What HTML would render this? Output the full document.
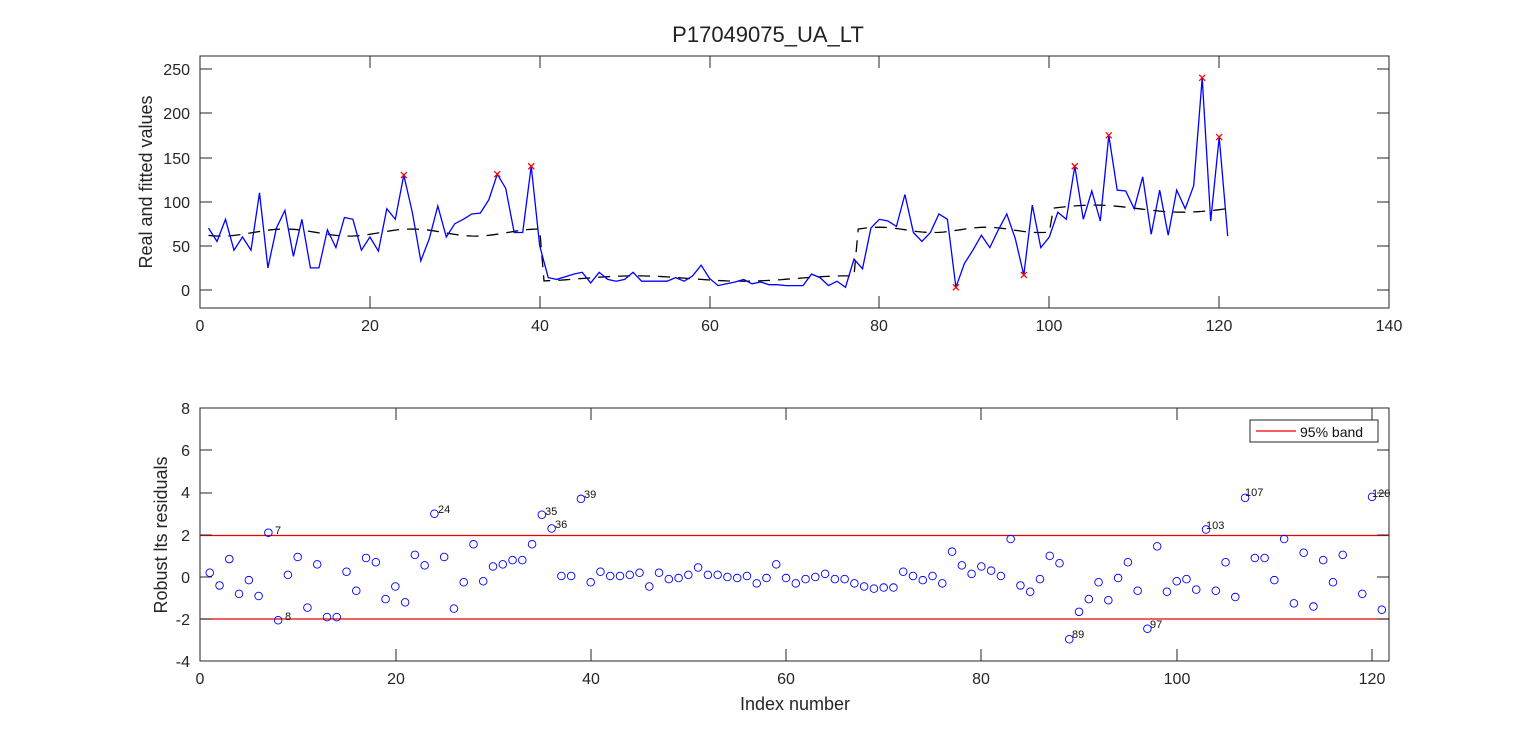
<!DOCTYPE html>
<html><head><meta charset="utf-8"><style>
body{margin:0;background:#fff;}
svg{display:block;font-family:"Liberation Sans",Arial,sans-serif;}
</style></head><body>
<svg id="s" width="1536" height="744" xmlns="http://www.w3.org/2000/svg">
<rect width="1536" height="744" fill="#fff"/>
<text x="768" y="42" font-size="22" text-anchor="middle" fill="#222">P17049075_UA_LT</text>
<!-- top axes -->
<rect x="200" y="56" width="1189" height="252" fill="none" stroke="#262626" stroke-width="1"/>
<g font-size="16" fill="#262626" text-anchor="end">
<text x="190" y="75">250</text><text x="190" y="119">200</text><text x="190" y="164">150</text>
<text x="190" y="208">100</text><text x="190" y="252">50</text><text x="190" y="296">0</text>
</g>
<g font-size="16" fill="#262626" text-anchor="middle">
<text x="200" y="331">0</text><text x="370" y="331">20</text><text x="540" y="331">40</text><text x="710" y="331">60</text>
<text x="879" y="331">80</text><text x="1049" y="331">100</text><text x="1219" y="331">120</text><text x="1389" y="331">140</text>
</g>
<text transform="translate(152,182) rotate(-90)" font-size="18" text-anchor="middle" fill="#262626">Real and fitted values</text>
<!-- bottom axes -->
<rect x="200" y="408" width="1189" height="253" fill="none" stroke="#262626" stroke-width="1"/>
<g font-size="16" fill="#262626" text-anchor="end">
<text x="190" y="414">8</text><text x="190" y="456">6</text><text x="190" y="498">4</text><text x="190" y="541">2</text>
<text x="190" y="583">0</text><text x="190" y="625">-2</text><text x="190" y="667">-4</text>
</g>
<g font-size="16" fill="#262626" text-anchor="middle">
<text x="200" y="684">0</text><text x="396" y="684">20</text><text x="591" y="684">40</text><text x="786" y="684">60</text>
<text x="981" y="684">80</text><text x="1177" y="684">100</text><text x="1372" y="684">120</text>
</g>
<text x="795" y="710" font-size="18" text-anchor="middle" fill="#262626">Index number</text>
<text transform="translate(167,535) rotate(-90)" font-size="18" text-anchor="middle" fill="#262626">Robust lts residuals</text>
<line x1="200" y1="535.5" x2="1389" y2="535.5" stroke="#e00" stroke-width="1.3"/>
<line x1="200" y1="619" x2="1389" y2="619" stroke="#e00" stroke-width="1.3"/>
<rect x="1250" y="420" width="128" height="22" fill="#fff" stroke="#262626" stroke-width="1"/>
<line x1="1256" y1="431" x2="1296" y2="431" stroke="#e00" stroke-width="1.3"/>
<text x="1300" y="437" font-size="14" fill="#111">95% band</text>
<g font-size="11" fill="#111">
<text x="275" y="534">7</text><text x="285" y="620">8</text><text x="438" y="513">24</text><text x="545" y="515">35</text>
<text x="555" y="528">36</text><text x="584" y="498">39</text><text x="1072" y="638">89</text><text x="1150" y="628">97</text>
<text x="1206" y="529">103</text><text x="1245" y="496">107</text><text x="1372" y="497">120</text>
</g>
<g id="ticks" stroke="#262626" stroke-width="1"></g>
<g id="top"></g><g id="bot"></g>
</svg>
<script>
var y=[70,55,80,45,60,45,110,25,70,90,38,80,25,25,68,48,82,80,45,60,44,92,80,130,88,33,58,95,60,75,80,86,87,102,131,115,65,65,140,50,14,12,15,18,20,8,20,12,10,12,20,10,10,10,10,14,10,16,28,13,5,7,9,12,7,9,6,6,5,5,5,18,14,5,10,3,35,24,70,80,78,72,108,65,55,65,86,80,3,30,45,62,48,68,86,58,17,96,48,60,88,80,140,80,112,78,175,113,112,92,128,63,113,62,113,92,118,240,78,173,61];
var r=[0.2,-0.4,0.85,-0.8,-0.15,-0.9,2.1,-2.05,0.1,0.95,-1.45,0.6,-1.9,-1.9,0.25,-0.65,0.9,0.7,-1.05,-0.45,-1.2,1.05,0.55,3.0,0.95,-1.5,-0.25,1.55,-0.2,0.5,0.6,0.8,0.8,1.55,2.95,2.3,0.05,0.05,3.7,-0.25,0.25,0.05,0.05,0.1,0.2,-0.45,0.2,-0.1,-0.05,0.1,0.45,0.1,0.1,0,-0.05,0.05,-0.3,-0.05,0.6,-0.05,-0.3,-0.1,0,0.15,-0.1,-0.1,-0.3,-0.45,-0.55,-0.5,-0.5,0.25,0.05,-0.15,0.05,-0.3,1.2,0.55,0.15,0.5,0.3,0.05,1.8,-0.4,-0.7,-0.1,1.0,0.65,-2.95,-1.65,-1.05,-0.25,-1.1,-0.05,0.7,-0.65,-2.45,1.45,-0.7,-0.2,-0.1,-0.6,2.25,-0.65,0.7,-0.95,3.75,0.9,0.9,-0.15,1.8,-1.25,1.15,-1.4,0.8,-0.25,1.05,null,-0.8,3.8,-1.55];
function X(i){return 200+8.493*i}function Y(v){return 290-0.884*v}
function fit(i){if(i<=40)return 65+4*Math.cos((i-10)*0.42);if(i<=77)return 13+3*Math.sin((i-45)*0.25);if(i<=100)return 68+3*Math.cos((i-80)*0.5);return 92+4*Math.sin((i-100)*0.3);}
var ns="http://www.w3.org/2000/svg",t=document.getElementById('top'),b=document.getElementById('bot'),tk=document.getElementById('ticks');
function el(p,n,a){var e=document.createElementNS(ns,n);for(var k in a)e.setAttribute(k,a[k]);p.appendChild(e);return e;}
[200,370,540,710,879,1049,1219,1389].forEach(function(x){el(tk,'line',{x1:x,y1:308,x2:x,y2:296});el(tk,'line',{x1:x,y1:56,x2:x,y2:68});});
[69,113,158,202,246,290].forEach(function(v){el(tk,'line',{x1:200,y1:v,x2:212,y2:v});el(tk,'line',{x1:1389,y1:v,x2:1377,y2:v});});
[200,396,591,786,981,1177,1372].forEach(function(x){el(tk,'line',{x1:x,y1:661,x2:x,y2:649});el(tk,'line',{x1:x,y1:408,x2:x,y2:420});});
[408,450,493,535,577,619,661].forEach(function(v){el(tk,'line',{x1:200,y1:v,x2:212,y2:v});el(tk,'line',{x1:1389,y1:v,x2:1377,y2:v});});
var d="",f="";for(var i=1;i<=121;i++){d+=(i>1?"L":"M")+X(i).toFixed(1)+","+Y(y[i-1]).toFixed(1);}
for(var i=1;i<=121;i+=0.5){f+=(i>1?"L":"M")+X(i).toFixed(1)+","+Y(fit(i)).toFixed(1);}
el(t,'path',{d:f,fill:'none',stroke:'#000','stroke-width':1.3,'stroke-dasharray':'12,8'});
el(t,'path',{d:d,fill:'none',stroke:'#00f','stroke-width':1.3});
[24,35,39,89,97,103,107,118,120].forEach(function(i){var x=X(i),yy=Y(y[i-1]);el(t,'path',{d:'M'+(x-3)+','+(yy-3)+'L'+(x+3)+','+(yy+3)+'M'+(x-3)+','+(yy+3)+'L'+(x+3)+','+(yy-3),stroke:'#f00','stroke-width':1.3});});
for(var i=1;i<=121;i++){if(r[i-1]===null)continue;el(b,'circle',{cx:200+9.767*i,cy:577-21.1*r[i-1],r:3.8,fill:'none',stroke:'#00f','stroke-width':0.9});}
</script>
</body></html>
